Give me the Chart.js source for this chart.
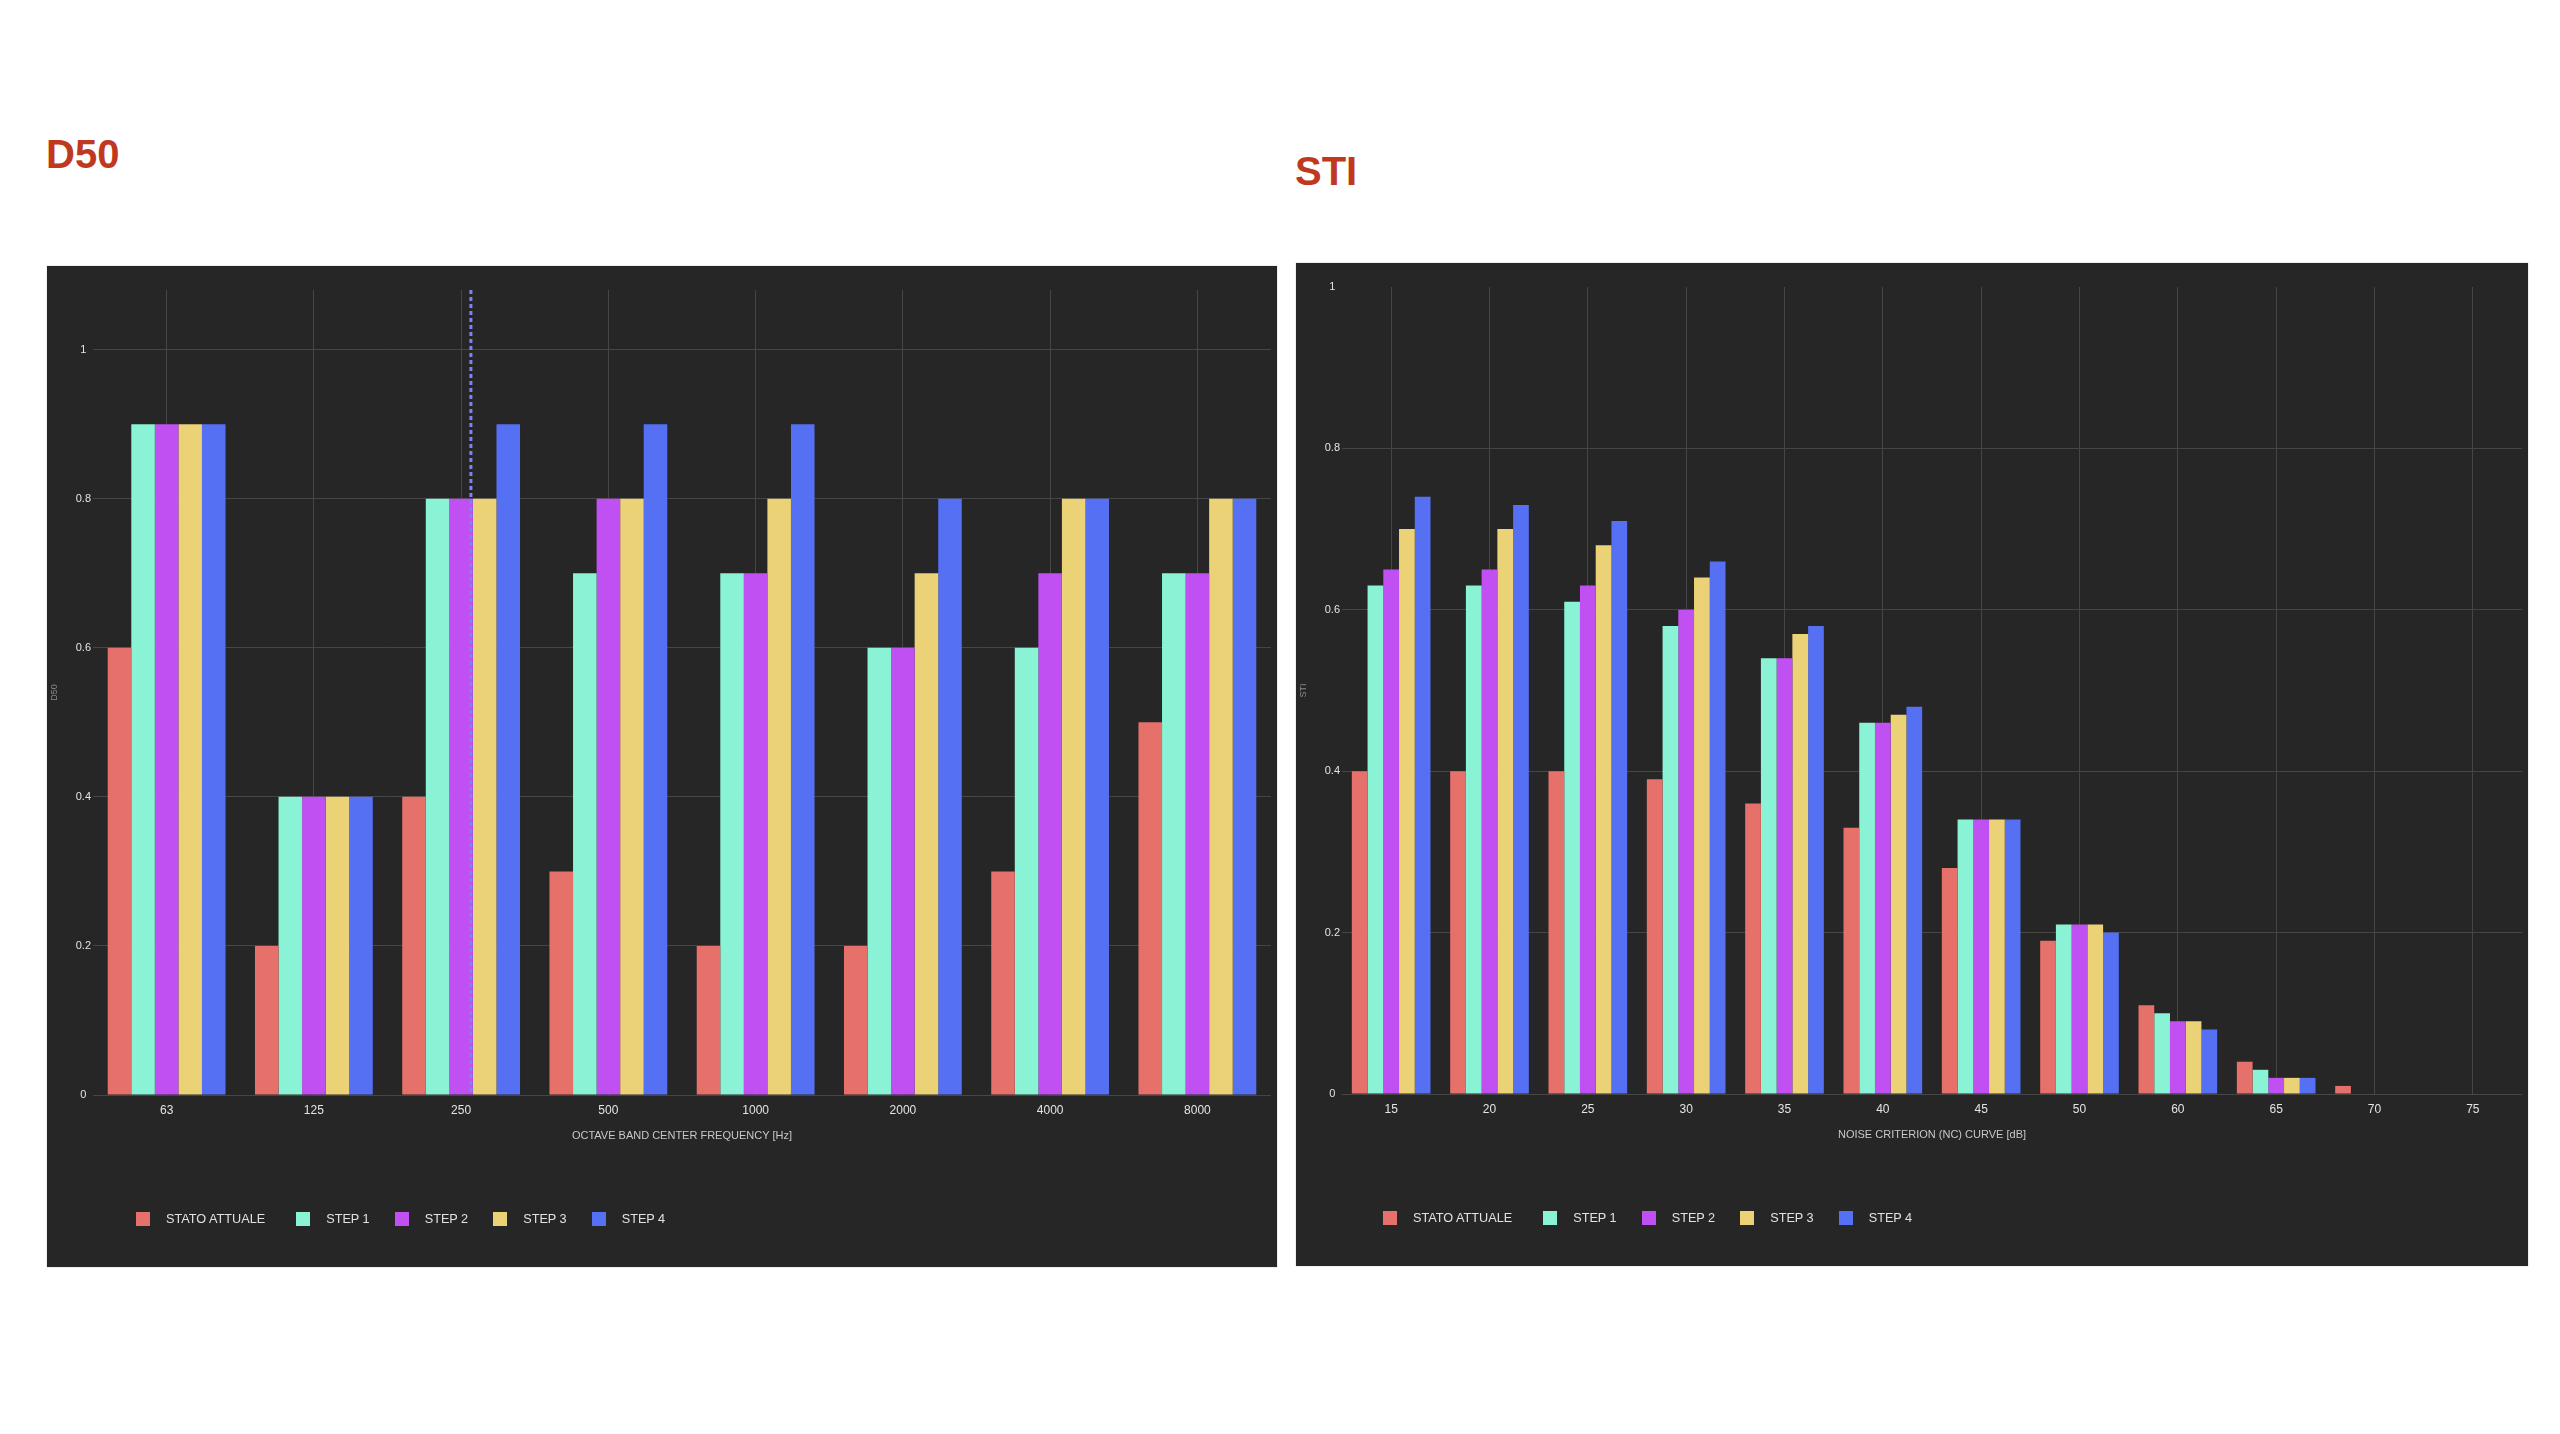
<!DOCTYPE html>
<html>
<head>
<meta charset="utf-8">
<script src="https://cdn.jsdelivr.net/npm/chart.js@4.4.0/dist/chart.umd.min.js"></script>
<style>
  html, body { margin:0; padding:0; background:#fff; }
  body { width:2560px; height:1434px; position:relative; overflow:hidden;
         font-family: Helvetica, Arial, "Liberation Sans", sans-serif; }
  .title { position:absolute; font-size:40px; line-height:40px; font-weight:bold; color:#c0391f; }
  .panel { position:absolute; background:#262626; box-shadow:0 0 1px #999; }
  .panel canvas { position:absolute; left:0; top:0; }
  .legend { position:absolute; display:flex; align-items:center; font-size:12.7px; color:#e2e2e2; }
  .legend span.box { width:14px; height:14px; display:inline-block; margin-right:16px; }
  .legend span.txt { margin-right:25px; white-space:nowrap; }
  .legend span.txt:nth-child(2) { margin-right:31px; }
</style>
</head>
<body>
<div class="title" style="left:46px;top:134px">D50</div>
<div class="title" style="left:1295px;top:151px">STI</div>

<div class="panel" id="p1" style="left:47px;top:266px;width:1230px;height:1001px">
  <canvas id="c1" width="1230" height="1001"></canvas>
  <div class="legend" id="lg1" style="left:89px;top:946px"></div>
</div>
<div class="panel" id="p2" style="left:1296px;top:263px;width:1232px;height:1003px">
  <canvas id="c2" width="1232" height="1003"></canvas>
  <div class="legend" id="lg2" style="left:87px;top:948px"></div>
</div>

<script>
// serie e colori
const seriesNames = ['STATO ATTUALE', 'STEP 1', 'STEP 2', 'STEP 3', 'STEP 4'];
const seriesColors = ['#e6706a', '#8af3d5', '#c050f2', '#ecd276', '#5570f2'];

// D50 per banda d'ottava
const d50Bands = ['63', '125', '250', '500', '1000', '2000', '4000', '8000'];
const d50Stato = [0.6, 0.2, 0.4, 0.3, 0.2, 0.2, 0.3, 0.5];
const d50Step1 = [0.9, 0.4, 0.8, 0.7, 0.7, 0.6, 0.6, 0.7];
const d50Step2 = [0.9, 0.4, 0.8, 0.8, 0.7, 0.6, 0.7, 0.7];
const d50Step3 = [0.9, 0.4, 0.8, 0.8, 0.8, 0.7, 0.8, 0.8];
const d50Step4 = [0.9, 0.4, 0.9, 0.9, 0.9, 0.8, 0.8, 0.8];
const d50Ticks = [0, 0.2, 0.4, 0.6, 0.8, 1];

// STI per curva NC
const ncCurves = ['15', '20', '25', '30', '35', '40', '45', '50', '60', '65', '70', '75'];
const stiStato = [0.40, 0.40, 0.40, 0.39, 0.36, 0.33, 0.28, 0.19, 0.11, 0.04, 0.01, 0];
const stiStep1 = [0.63, 0.63, 0.61, 0.58, 0.54, 0.46, 0.34, 0.21, 0.10, 0.03, 0, 0];
const stiStep2 = [0.65, 0.65, 0.63, 0.60, 0.54, 0.46, 0.34, 0.21, 0.09, 0.02, 0, 0];
const stiStep3 = [0.70, 0.70, 0.68, 0.64, 0.57, 0.47, 0.34, 0.21, 0.09, 0.02, 0, 0];
const stiStep4 = [0.74, 0.73, 0.71, 0.66, 0.58, 0.48, 0.34, 0.20, 0.08, 0.02, 0, 0];
const stiTicks = [0, 0.2, 0.4, 0.6, 0.8, 1];

const FONT = 'Helvetica, Arial, "Liberation Sans", sans-serif';
const GRID = '#464646';

function buildLegend(id){
  const el = document.getElementById(id);
  seriesNames.forEach((n, i) => {
    const b = document.createElement('span'); b.className = 'box'; b.style.background = seriesColors[i];
    const t = document.createElement('span'); t.className = 'txt'; t.textContent = n;
    el.appendChild(b); el.appendChild(t);
  });
}

function makeDatasets(vals){
  return vals.map((v, i) => ({
    label: seriesNames[i], data: v, backgroundColor: seriesColors[i],
    borderWidth: 0, categoryPercentage: 0.8, barPercentage: 1.0
  }));
}

function makeOptions(yTitle, xTitle, yMax, tickVals, topLine){
  return {
    responsive: false, devicePixelRatio: 1, animation: false,
    layout: { padding: { left: 0, right: 6, top: 24, bottom: 122 } },
    plugins: { legend: { display: false }, tooltip: { enabled: false } },
    scales: {
      x: {
        grid: { color: GRID, offset: false, drawTicks: false },
        border: { display: false },
        ticks: { color: '#e4e4e4', font: { family: FONT, size: 12 }, padding: 8, maxRotation: 0 },
        title: { display: true, text: xTitle, color: '#c8c8c8', font: { family: FONT, size: 11 }, padding: { top: 0, bottom: 2 } },
        afterFit(s){ s.height = 50; }
      },
      y: {
        min: 0, max: yMax,
        grid: {
          drawTicks: false,
          color: (c) => (!topLine && c.tick && c.tick.value === yMax) ? 'rgba(0,0,0,0)' : GRID
        },
        border: { display: false },
        ticks: {
          color: '#e4e4e4', font: { family: FONT, size: 11 }, padding: 2, crossAlign: 'center',
          callback: (v) => String(+(+v).toFixed(2))
        },
        afterBuildTicks(s){ s.ticks = tickVals.map(v => ({ value: v })); },
        title: { display: true, text: yTitle, color: '#8a8a8a', font: { family: FONT, size: 9 }, padding: { top: 2, bottom: 0 } },
        afterFit(s){ s.width = 46; }
      }
    }
  };
}

// linea tratteggiata verticale (cursore) sulla banda 250
const crosshair = {
  id: 'crosshair',
  afterDatasetsDraw(chart){
    const bar = chart.getDatasetMeta(2).data[2];
    if(!bar) return;
    const x = bar.x + bar.width / 2 - 2;
    const ctx = chart.ctx, a = chart.chartArea;
    ctx.save();
    ctx.setLineDash([4, 3]);
    ctx.lineWidth = 3;
    ctx.strokeStyle = '#7f82f2';
    ctx.beginPath(); ctx.moveTo(x, a.top); ctx.lineTo(x, a.bottom); ctx.stroke();
    ctx.restore();
  }
};

new Chart(document.getElementById('c1'), {
  type: 'bar',
  data: { labels: d50Bands, datasets: makeDatasets([d50Stato, d50Step1, d50Step2, d50Step3, d50Step4]) },
  options: makeOptions('D50', 'OCTAVE BAND CENTER FREQUENCY [Hz]', 1.08, d50Ticks, true),
  plugins: [crosshair]
});

new Chart(document.getElementById('c2'), {
  type: 'bar',
  data: { labels: ncCurves, datasets: makeDatasets([stiStato, stiStep1, stiStep2, stiStep3, stiStep4]) },
  options: makeOptions('STI', 'NOISE CRITERION (NC) CURVE [dB]', 1, stiTicks, false)
});

buildLegend('lg1');
buildLegend('lg2');
</script>
</body>
</html>
